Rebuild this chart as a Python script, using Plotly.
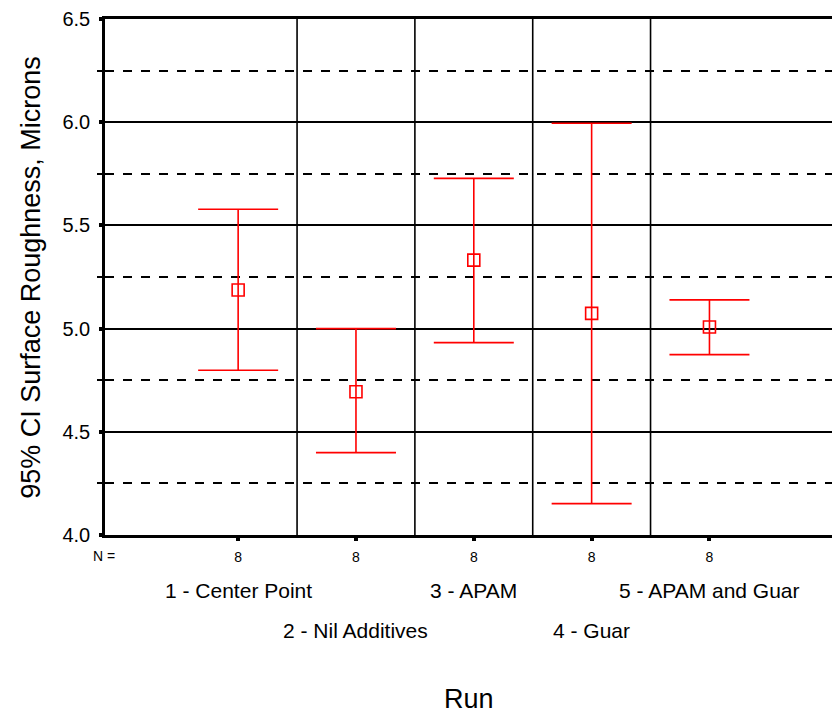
import plotly.graph_objects as go

categories = ["1 - Center Point", "2 - Nil Additives", "3 - APAM", "4 - Guar", "5 - APAM and Guar"]
n_values = ["8", "8", "8", "8", "8"]
means = [5.187, 4.694, 5.332, 5.074, 5.008]
upper = [5.578, 5.000, 5.728, 5.995, 5.139]
lower = [4.798, 4.399, 4.932, 4.152, 4.874]

positions = list(range(1, len(categories) + 1))
err_plus = [u - m for u, m in zip(upper, means)]
err_minus = [m - l for m, l in zip(means, lower)]

RED = "#ff0000"
FONT = "Arial, Liberation Sans, sans-serif"

fig = go.Figure()
fig.add_trace(go.Scatter(
    x=positions, y=means, mode="markers",
    marker=dict(symbol="square-open", size=12, color=RED, line=dict(width=1.6, color=RED)),
    error_y=dict(type="data", symmetric=False, array=err_plus, arrayminus=err_minus,
                 color=RED, thickness=1.6, width=40),
    showlegend=False, hoverinfo="skip",
))
fig.add_trace(go.Scatter(x=[positions[0]], y=[means[0]], yaxis="y2", mode="markers",
                         marker=dict(opacity=0), showlegend=False, hoverinfo="skip"))

shapes = []
for p in positions[:-1]:
    shapes.append(dict(type="line", xref="x", yref="y", x0=p + 0.5, x1=p + 0.5, y0=4.0, y1=6.5,
                       line=dict(color="black", width=1.6), layer="below"))
fig.update_layout(shapes=shapes)

annotations = []
for i, (p, c) in enumerate(zip(positions, categories)):
    annotations.append(dict(x=p, y=-0.108 if i % 2 == 0 else -0.185, xref="x", yref="paper",
                            text=c, showarrow=False, font=dict(size=21, color="black", family=FONT),
                            xanchor="center", yanchor="middle"))
annotations.append(dict(x=-0.002, y=-0.04, xref="paper", yref="paper", text="N =", showarrow=False,
                        font=dict(size=14, color="black", family=FONT), xanchor="center", yanchor="middle"))
annotations.append(dict(x=0.5, y=-0.318, xref="paper", yref="paper", text="Run", showarrow=False,
                        font=dict(size=27, color="black", family=FONT), xanchor="center", yanchor="middle"))
annotations.append(dict(x=-0.102, y=0.5, xref="paper", yref="paper",
                        text="95% CI Surface Roughness, Microns", textangle=-90, showarrow=False,
                        font=dict(size=27, color="black", family=FONT), xanchor="center", yanchor="middle"))
fig.update_layout(annotations=annotations)

fig.update_layout(
    width=832, height=713,
    margin=dict(l=105, r=0, t=19, b=178),
    paper_bgcolor="white", plot_bgcolor="white",
    font=dict(family=FONT, color="black"),
    xaxis=dict(
        range=[-0.13, 6.04], tickmode="array", tickvals=positions, ticktext=n_values,
        tickfont=dict(size=14), ticks="outside", ticklen=3, tickwidth=4, tickcolor="black",
        ticklabelstandoff=4,
        showgrid=False, zeroline=False, showline=True, linecolor="black", linewidth=2.5,
        mirror=True,
    ),
    yaxis=dict(
        range=[4.0, 6.5], tickmode="linear", tick0=4.0, dtick=0.5, tickformat=".1f",
        tickfont=dict(size=20), ticks="outside", ticklen=3, tickwidth=4, tickcolor="black",
        ticklabelstandoff=5,
        showgrid=True, gridcolor="black", gridwidth=1.6, zeroline=False,
        showline=True, linecolor="black", linewidth=2.5,
        minor=dict(dtick=0.25, tick0=4.0, showgrid=True, gridcolor="black", gridwidth=1.6,
                   griddash="dash", ticks="outside", ticklen=5, tickwidth=1.5, tickcolor="black"),
    ),
    yaxis2=dict(
        overlaying="y", side="left", range=[4.0, 6.5], tickmode="linear", tick0=4.0, dtick=0.5,
        showticklabels=False, ticks="", showgrid=False, zeroline=False, showline=False,
        minor=dict(dtick=0.25, tick0=4.0, showgrid=False, ticks="inside", ticklen=6,
                   tickwidth=1.5, tickcolor="black"),
    ),
)

fig.write_html("out.html", config={"displayModeBar": False},
               post_script="document.body.style.margin='0px';")
